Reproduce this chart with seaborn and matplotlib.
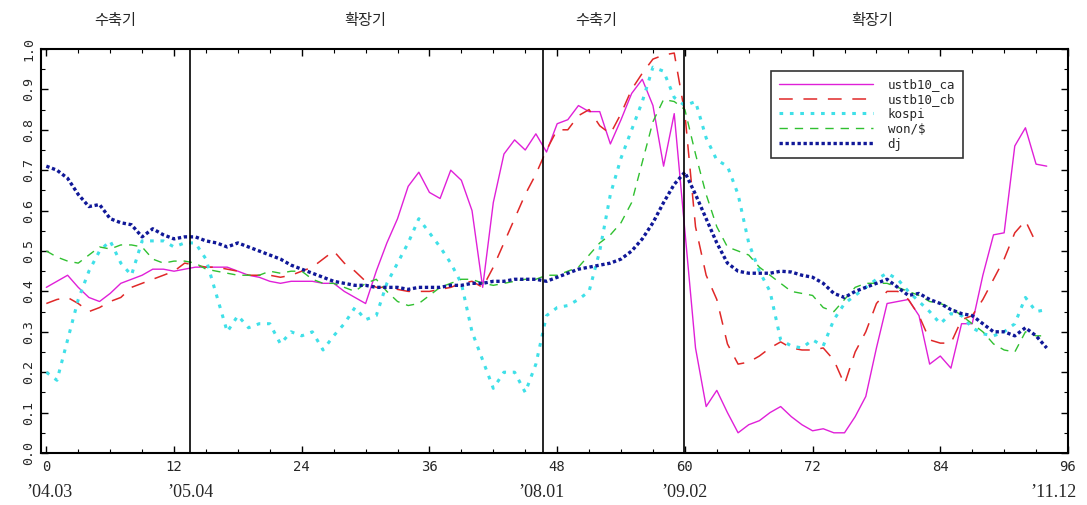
import numpy as np
import pandas as pd
import matplotlib
matplotlib.use("Agg")
import matplotlib.pyplot as plt
from matplotlib.ticker import MultipleLocator
import seaborn as sns

months = list(range(95))

ustb10_ca = [0.41, 0.425, 0.44, 0.41, 0.385, 0.375, 0.395, 0.42, 0.43, 0.44,
             0.455, 0.455, 0.45, 0.455, 0.46, 0.46, 0.46, 0.46, 0.45, 0.44,
             0.435, 0.425, 0.42, 0.425, 0.425, 0.425, 0.42, 0.42, 0.40, 0.385,
             0.37, 0.45, 0.52, 0.58, 0.66, 0.695, 0.645, 0.63, 0.70, 0.675,
             0.60, 0.41, 0.62, 0.74, 0.775, 0.75, 0.79, 0.745, 0.815, 0.825,
             0.86, 0.845, 0.845, 0.765, 0.825, 0.89, 0.925, 0.86, 0.71, 0.84,
             0.55, 0.26, 0.115, 0.155, 0.10, 0.05, 0.07, 0.08, 0.10, 0.115,
             0.09, 0.07, 0.055, 0.06, 0.05, 0.05, 0.09, 0.14, 0.26, 0.37,
             0.375, 0.38, 0.34, 0.22, 0.24, 0.21, 0.32, 0.32, 0.44, 0.54,
             0.545, 0.76, 0.805, 0.715, 0.71]

ustb10_cb = [0.37, 0.38, 0.385, 0.37, 0.35, 0.36, 0.375, 0.385, 0.41, 0.42,
             0.43, 0.44, 0.45, 0.47, 0.465, 0.46, 0.46, 0.455, 0.45, 0.44,
             0.44, 0.44, 0.435, 0.44, 0.45, 0.46, 0.48, 0.50, 0.47, 0.45,
             0.425, 0.41, 0.41, 0.405, 0.40, 0.40, 0.40, 0.405, 0.41, 0.42,
             0.425, 0.41, 0.46, 0.52, 0.58, 0.64, 0.69, 0.75, 0.80, 0.80,
             0.835, 0.85, 0.81, 0.79, 0.84, 0.90, 0.94, 0.975, 0.985, 0.99,
             0.84, 0.56, 0.44, 0.38, 0.27, 0.22, 0.225, 0.24, 0.26, 0.275,
             0.26, 0.255, 0.255, 0.26, 0.23, 0.17, 0.25, 0.30, 0.37, 0.40,
             0.40, 0.38, 0.34, 0.28, 0.272, 0.272, 0.33, 0.34, 0.38, 0.43,
             0.48, 0.545, 0.575, 0.52, np.nan]

kospi = [0.20, 0.18, 0.28, 0.38, 0.45, 0.50, 0.525, 0.47, 0.44, 0.525,
         0.525, 0.525, 0.51, 0.52, 0.52, 0.48, 0.39, 0.30, 0.34, 0.31,
         0.32, 0.32, 0.27, 0.30, 0.29, 0.30, 0.255, 0.29, 0.32, 0.36,
         0.33, 0.34, 0.42, 0.47, 0.52, 0.58, 0.545, 0.51, 0.47, 0.42,
         0.30, 0.23, 0.16, 0.20, 0.20, 0.15, 0.22, 0.34, 0.36, 0.365,
         0.38, 0.40, 0.50, 0.64, 0.73, 0.80, 0.87, 0.955, 0.945, 0.88,
         0.86, 0.87, 0.78, 0.725, 0.71, 0.64, 0.52, 0.45, 0.40, 0.28,
         0.265, 0.26, 0.28, 0.265, 0.33, 0.37, 0.39, 0.41, 0.43, 0.445,
         0.43, 0.40, 0.375, 0.35, 0.32, 0.345, 0.34, 0.31, 0.295, 0.29,
         0.30, 0.32, 0.385, 0.35, 0.355]

won_usd = [0.50, 0.485, 0.475, 0.47, 0.49, 0.51, 0.505, 0.515, 0.515, 0.51,
           0.48, 0.47, 0.475, 0.475, 0.47, 0.455, 0.45, 0.445, 0.44, 0.44,
           0.44, 0.45, 0.445, 0.45, 0.45, 0.43, 0.42, 0.42, 0.41, 0.40,
           0.42, 0.43, 0.40, 0.375, 0.365, 0.37, 0.39, 0.41, 0.42, 0.43,
           0.43, 0.42, 0.415, 0.42, 0.425, 0.43, 0.43, 0.44, 0.44, 0.45,
           0.46, 0.49, 0.52, 0.54, 0.57, 0.62, 0.72, 0.82, 0.875, 0.87,
           0.85, 0.74, 0.64, 0.56, 0.51, 0.50, 0.49, 0.46, 0.44, 0.42,
           0.40, 0.395, 0.39, 0.36, 0.35, 0.38, 0.41, 0.42, 0.42, 0.42,
           0.41, 0.40, 0.39, 0.375, 0.37, 0.36, 0.34, 0.32, 0.30, 0.27,
           0.255, 0.25, 0.30, 0.29, 0.29]

dj = [0.71, 0.70, 0.68, 0.64, 0.61, 0.615, 0.58, 0.57, 0.565, 0.535,
      0.555, 0.54, 0.53, 0.535, 0.535, 0.525, 0.52, 0.51, 0.52, 0.51,
      0.50, 0.49, 0.48, 0.465, 0.455, 0.445, 0.435, 0.425, 0.42, 0.415,
      0.415, 0.41, 0.41, 0.41, 0.405, 0.41, 0.41, 0.41, 0.415, 0.415,
      0.42, 0.42, 0.425, 0.425, 0.43, 0.43, 0.43, 0.425, 0.435, 0.445,
      0.455, 0.46, 0.465, 0.47, 0.48, 0.50, 0.53, 0.57, 0.62, 0.665,
      0.695, 0.64, 0.58, 0.52, 0.47, 0.45, 0.445, 0.445, 0.445, 0.45,
      0.448, 0.44, 0.435, 0.42, 0.395, 0.385, 0.40, 0.41, 0.42, 0.43,
      0.41, 0.39, 0.395, 0.38, 0.37, 0.355, 0.345, 0.34, 0.32, 0.30,
      0.30, 0.29, 0.31, 0.29, 0.26]

series_names = ["ustb10_ca", "ustb10_cb", "kospi", "won/\\$", "dj"]
series_values = [ustb10_ca, ustb10_cb, kospi, won_usd, dj]

phase_lines = [13.5, 46.7, 59.9]
phase_labels = ["수축기", "확장기", "수축기", "확장기"]
phase_label_x = [6.5, 30.0, 51.7, 77.6]
date_labels = ["’04.03", "’05.04", "’08.01", "’09.02", "’11.12"]
date_label_x = [0.3, 13.5, 46.5, 60.0, 94.6]

sns.set_theme(style="white")
plt.rcParams["font.family"] = ["DejaVu Sans"]

styles = [
    dict(color="#e020d8", linestyle="-", linewidth=1.0),
    dict(color="#e02828", linestyle=(0, (9, 7)), linewidth=1.1),
    dict(color="#40e0e8", linestyle=(0, (1.2, 2.2)), linewidth=2.2),
    dict(color="#30c030", linestyle=(0, (6, 5)), linewidth=1.0),
    dict(color="#101898", linestyle=(0, (1, 0.8)), linewidth=2.4),
]

fig = plt.figure(figsize=(10.87, 5.05), dpi=100)
ax = fig.add_axes([41 / 1087, 52 / 505, 1027 / 1087, 404 / 505])

for name, vals, st in zip(series_names, series_values, styles):
    df = pd.DataFrame({"x": months, "y": vals})
    sns.lineplot(data=df, x="x", y="y", ax=ax, label=name, **st)

for xv in phase_lines:
    ax.axvline(xv, color="black", linewidth=1.2)

ax.set_xlim(-0.5, 96)
ax.set_ylim(0, 1.0)
ax.set_xlabel("")
ax.set_ylabel("")
ax.xaxis.set_major_locator(MultipleLocator(12))
ax.xaxis.set_minor_locator(MultipleLocator(3))
ax.yaxis.set_major_locator(MultipleLocator(0.1))
ax.yaxis.set_minor_locator(MultipleLocator(0.05))
ax.tick_params(which="both", direction="in", top=True, right=True,
               bottom=True, left=True, color="black")
ax.tick_params(which="major", length=5, width=1)
ax.tick_params(which="minor", length=3, width=0.8)
ax.set_xticklabels([f"{int(v)}" for v in ax.get_xticks()],
                   fontsize=10, family="DejaVu Sans Mono")
ax.set_yticks(ax.get_yticks())
ax.set_yticklabels([f"{v:.1f}" for v in ax.get_yticks()], rotation=90,
                   fontsize=9.5, va="center", family="DejaVu Sans Mono")
ax.tick_params(axis="x", pad=5)
ax.tick_params(axis="y", pad=4)
ax.set_xlim(-0.5, 96)
ax.set_ylim(0, 1.0)
for sp in ax.spines.values():
    sp.set_color("black")
    sp.set_linewidth(1.5)

leg = ax.legend(loc="upper left", bbox_to_anchor=(0.705, 0.962),
                handlelength=7.5, frameon=True, fancybox=False,
                borderpad=0.6, labelspacing=0.15, handletextpad=1.2,
                prop={"family": "DejaVu Sans Mono", "size": 9})
leg.get_frame().set_edgecolor("black")
leg.get_frame().set_linewidth(1.2)

trans = ax.get_xaxis_transform()
for lx, lt in zip(phase_label_x, phase_labels):
    ax.text(lx, 1.07, lt, transform=trans, ha="center", va="center",
            fontsize=11, family=["Noto Sans CJK KR", "DejaVu Sans"])
for dx, dt in zip(date_label_x, date_labels):
    ax.text(dx, -0.098, dt, transform=trans, ha="center", va="center",
            fontsize=13, family=["Liberation Serif", "DejaVu Serif"])

fig.savefig("out.png", dpi=100)
